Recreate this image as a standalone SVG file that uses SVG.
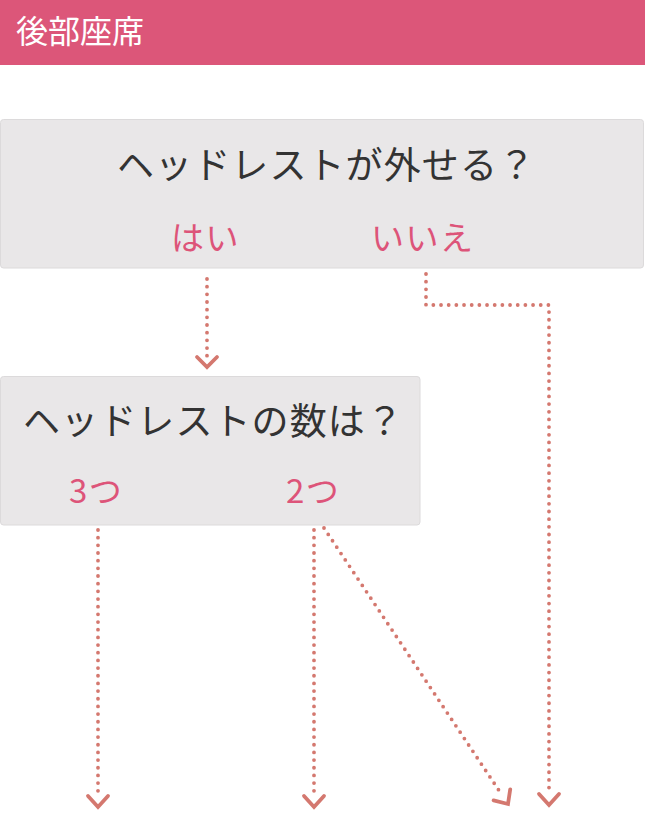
<svg xmlns="http://www.w3.org/2000/svg" width="645" height="813" viewBox="0 0 645 813">
<defs>
<style>
.jp{font-family:"Noto Sans CJK JP","Noto Sans",sans-serif;}
.hdr{font-size:32px;fill:#ffffff;}
.box{fill:#e9e7e8;stroke:#dcdadb;stroke-width:1;}
.q{font-size:37px;fill:#333333;letter-spacing:1.1px;font-weight:400;}
.a{font-size:33px;fill:#dd5479;letter-spacing:1.5px;font-weight:400;}
.dot{fill:none;stroke:#d4786f;stroke-width:3.8;stroke-linecap:round;stroke-dasharray:0 7.67;}
.head{fill:none;stroke:#d4786f;stroke-width:3.8;stroke-linecap:round;stroke-linejoin:miter;}
</style>
</defs>
<rect x="0" y="0" width="645" height="65" fill="#dc5679"/>
<text class="jp hdr" x="16" y="43">後部座席</text>
<g id="node-q1">
<rect class="box" x="0.5" y="119.5" width="643" height="148.5" rx="3"/>
<text class="jp q" x="117" y="179">ヘッドレストが外せる？</text>
<text class="jp a" x="171" y="250">はい</text>
<text class="jp a" x="371" y="250">いいえ</text>
</g>
<g id="node-q2">
<rect class="box" x="0.5" y="376.5" width="419.5" height="148.5" rx="3"/>
<text class="jp q" x="23" y="435">ヘッドレストの数は？</text>
<text class="jp a" x="69" y="503">3つ</text>
<text class="jp a" x="286" y="503">2つ</text>
</g>
<g id="connectors">
<path class="dot" d="M207 279 V356"/>
<path class="head" d="M197 357 L207 367 L217 357"/>
<path class="dot" d="M426 274 V305 H549 V795"/>
<path class="head" d="M539 794 L549 805 L559 794"/>
<path class="dot" d="M98 530 V795"/>
<path class="head" d="M88 796 L98 807 L108 796"/>
<path class="dot" d="M314 530 V795"/>
<path class="head" d="M304 796 L314 807 L324 796"/>
<path class="dot" d="M324 528 L502 795"/>
<path class="head" transform="translate(508,804) rotate(-33.7)" d="M-10 -11 L0 0 L10 -11"/>
</g>
</svg>
